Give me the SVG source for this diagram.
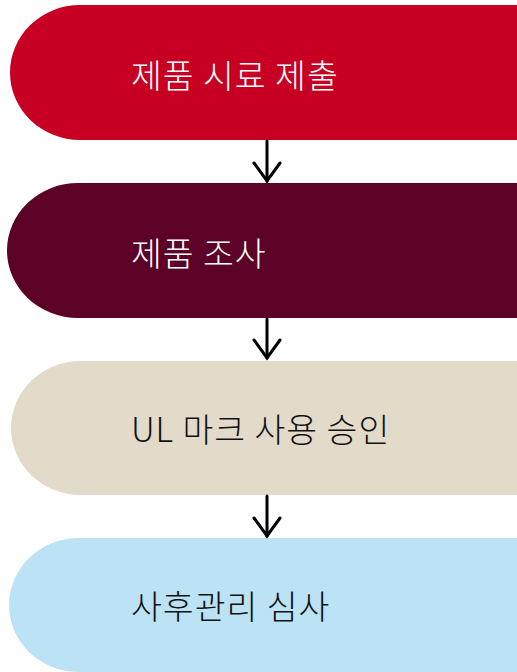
<svg xmlns="http://www.w3.org/2000/svg" width="517" height="672" viewBox="0 0 517 672">
<defs>
<style>
.lbl{font-family:"Noto Sans CJK KR","Noto Sans",sans-serif;font-size:33.5px;font-weight:300;letter-spacing:1px;dominant-baseline:central}
.conn line,.conn polyline{stroke:#000;stroke-width:3;fill:none;stroke-linecap:round;stroke-linejoin:miter}
</style>
</defs>
<rect width="517" height="672" fill="#fff"/>
<g id="node1">
<path d="M80 5H517V140H80A70 67.5 0 0 1 80 5Z" fill="#C70023"/>
<text class="lbl" x="131" y="73" fill="#fff">제품 시료 제출</text>
</g>
<g id="node2">
<path d="M78 183H517V318H78A71 67.5 0 0 1 78 183Z" fill="#5B0226"/>
<text class="lbl" x="131" y="251" fill="#fff">제품 조사</text>
</g>
<g id="node3">
<path d="M81 361H517V495H81A70 67 0 0 1 81 361Z" fill="#E3DBC9"/>
<text class="lbl" x="131" y="427" fill="#111">UL 마크 사용 승인</text>
</g>
<g id="node4">
<path d="M79 538H517V672H79A70 67 0 0 1 79 538Z" fill="#BCE3F5"/>
<text class="lbl" x="131" y="604" fill="#111">사후관리 심사</text>
</g>
<g class="conn" id="connectors">
<line x1="267" y1="141" x2="267" y2="181"/>
<polyline points="254,163 267,181 280,163"/>
<line x1="267" y1="319" x2="267" y2="358"/>
<polyline points="254,340 267,358 280,340"/>
<line x1="267" y1="496" x2="267" y2="536"/>
<polyline points="254,518 267,536 280,518"/>
</g>
</svg>
